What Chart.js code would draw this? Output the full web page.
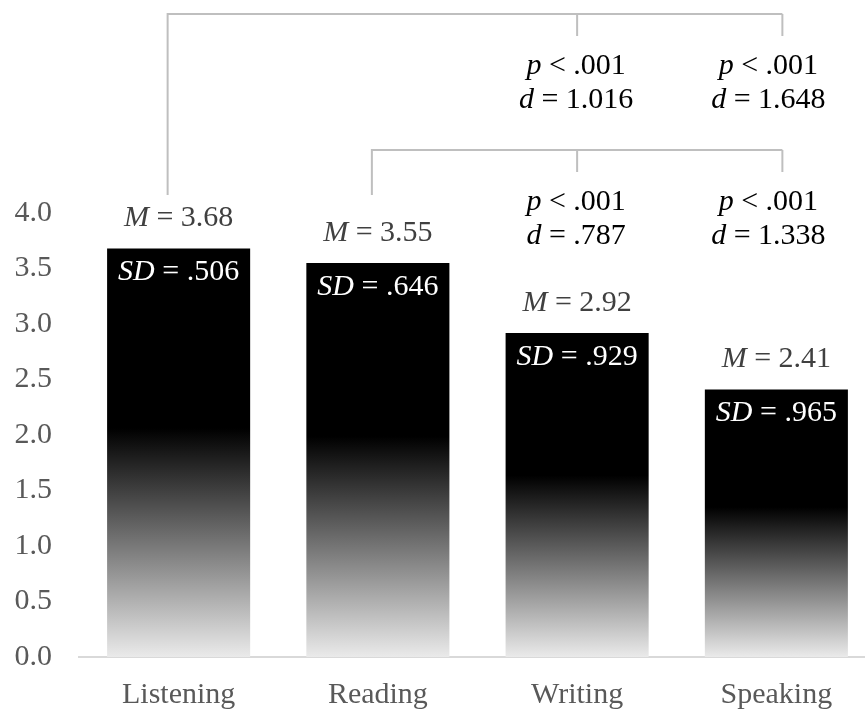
<!DOCTYPE html>
<html>
<head>
<meta charset="utf-8">
<script src="https://cdn.jsdelivr.net/npm/chart.js@4"></script>
<style>
  html, body { margin: 0; padding: 0; background: #fff; overflow: hidden; width: 865px; height: 709px; }
  #wrap { width: 876px; height: 709px; }
</style>
</head>
<body>
<div id="wrap"><canvas id="c" width="876" height="709"></canvas></div>
<script>
const categories = ['Listening', 'Reading', 'Writing', 'Speaking'];
const means = [3.68, 3.55, 2.92, 2.41];
const sds = [0.506, 0.646, 0.929, 0.965];
const yTicks = [0, 0.5, 1, 1.5, 2, 2.5, 3, 3.5, 4];
// pairwise comparisons: from bar index, to bar index, p text, Cohen's d
const compFrom = [0, 0, 1, 1];
const compTo = [2, 3, 2, 3];
const compP = ['.001', '.001', '.001', '.001'];
const compD = [1.016, 1.648, 0.787, 1.338];

const SERIF = "'Liberation Serif', 'Times New Roman', serif";
const TXT = 30;

function dropZero(v) {
  const s = v.toFixed(3);
  return s.startsWith('0') ? s.slice(1) : s;
}

// draw a line of text made of italic / upright runs, centred on cx
function drawRich(ctx, parts, cx, cy, color, size) {
  ctx.save();
  ctx.textBaseline = 'middle';
  ctx.textAlign = 'left';
  ctx.fillStyle = color;
  let total = 0;
  parts.forEach(p => {
    ctx.font = (p.i ? 'italic ' : '') + size + 'px ' + SERIF;
    p.w = ctx.measureText(p.t).width;
    total += p.w;
  });
  let xx = cx - total / 2;
  parts.forEach(p => {
    ctx.font = (p.i ? 'italic ' : '') + size + 'px ' + SERIF;
    ctx.fillText(p.t, xx, cy);
    xx += p.w;
  });
  ctx.restore();
}

const annotations = {
  id: 'annotations',
  afterDatasetsDraw(chart) {
    const { ctx, scales: { x, y } } = chart;
    // mean above each bar, SD inside its top
    means.forEach((m, i) => {
      const cx = x.getPixelForValue(i);
      const top = y.getPixelForValue(m);
      drawRich(ctx, [{ t: 'M', i: true }, { t: ' = ' + m.toFixed(2) }], cx, top - 30, '#404040', TXT);
      drawRich(ctx, [{ t: 'SD', i: true }, { t: ' = ' + dropZero(sds[i]) }], cx, top + 24, '#ffffff', TXT);
    });

    // comparison brackets
    const shift = [-11, -6, 0, 6];
    const textShift = [0, 0, -1, -8];
    const bracketY = { 0: 14, 1: 150 };
    const fromDropEnd = 195;
    ctx.save();
    ctx.strokeStyle = '#bfbfbf';
    ctx.lineWidth = 2;
    [0, 1].forEach(src => {
      const ly = bracketY[src];
      const idx = compFrom.map((f, k) => f === src ? k : -1).filter(k => k >= 0);
      const targets = idx.map(k => compTo[k]);
      const x0 = x.getPixelForValue(src) + shift[src];
      const last = Math.max(...targets);
      const xEnd = x.getPixelForValue(last) + shift[last];
      ctx.beginPath();
      ctx.moveTo(x0, fromDropEnd);
      ctx.lineTo(x0, ly);
      ctx.lineTo(xEnd, ly);
      targets.forEach(t => {
        const tx = x.getPixelForValue(t) + shift[t];
        ctx.moveTo(tx, ly);
        ctx.lineTo(tx, ly + 22);
      });
      ctx.stroke();
      idx.forEach(k => {
        const t = compTo[k];
        const tx = x.getPixelForValue(t) + textShift[t];
        drawRich(ctx, [{ t: 'p', i: true }, { t: ' < ' + compP[k] }], tx, ly + 52, '#000', TXT);
        drawRich(ctx, [{ t: 'd', i: true }, { t: ' = ' + dropZero(compD[k]) }], tx, ly + 86, '#000', TXT);
      });
    });
    ctx.restore();
  }
};

function barGradient(context) {
  const chart = context.chart;
  const { chartArea, scales } = chart;
  if (!chartArea || !scales.y || context.parsed == null) return '#000';
  const top = scales.y.getPixelForValue(context.parsed.y);
  const bottom = scales.y.getPixelForValue(0);
  const g = chart.ctx.createLinearGradient(0, top, 0, bottom);
  g.addColorStop(0, '#000000');
  g.addColorStop(0.44, '#000000');
  g.addColorStop(1, '#eaeaea');
  return g;
}

new Chart(document.getElementById('c'), {
  type: 'bar',
  data: {
    labels: categories,
    datasets: [{
      data: means,
      backgroundColor: barGradient,
      borderWidth: 0,
      barPercentage: 0.718,
      categoryPercentage: 1.0
    }]
  },
  options: {
    responsive: false,
    animation: false,
    events: [],
    layout: { padding: { top: 213, right: 0, bottom: 0, left: 0 } },
    plugins: { legend: { display: false }, tooltip: { enabled: false } },
    scales: {
      x: {
        grid: { display: false, drawTicks: false },
        border: { display: true, color: '#d9d9d9', width: 2 },
        ticks: { color: '#595959', font: { family: SERIF, size: TXT }, padding: 20 },
        afterFit(scale) { scale.height = 52; }
      },
      y: {
        min: 0, max: 4,
        afterBuildTicks(scale) { scale.ticks = yTicks.map(v => ({ value: v })); },
        grid: { display: false, drawTicks: false },
        border: { display: false },
        ticks: {
          color: '#595959', font: { family: SERIF, size: TXT }, padding: 27,
          callback: v => v.toFixed(1)
        },
        afterFit(scale) { scale.width = 79; }
      }
    }
  },
  plugins: [annotations]
});
</script>
</body>
</html>
